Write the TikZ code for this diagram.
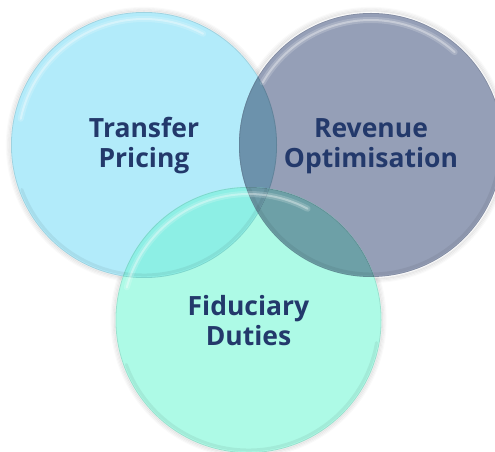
\documentclass[tikz,border=0pt]{standalone}
\usepackage{fontspec}
\setmainfont{Open Sans}
\usetikzlibrary{calc}
\definecolor{cLeft}{HTML}{B2EBFA}
\definecolor{cRight}{HTML}{959FB7}
\definecolor{cBottom}{HTML}{ADFAE6}
\definecolor{cLR}{HTML}{6C92AC}
\definecolor{cLB}{HTML}{8DEFE5}
\definecolor{cRB}{HTML}{6DA0A7}
\definecolor{cLRB}{HTML}{6A98A5}
\definecolor{txt}{HTML}{23396B}
\tikzset{
  label/.style={text=txt, font=\bfseries\fontsize{26.5}{30}\selectfont, align=center, inner sep=0pt},
  glow/.style={black, line width=1.6pt},
  shinewide/.style={white, line width=6pt, opacity=0.18, line cap=round},
  shine/.style={white, line width=2pt, opacity=0.35, line cap=round},
  rimdark/.style={black, line width=3pt, opacity=0.06, line cap=round}
}
\begin{document}
\begin{tikzpicture}[x=1pt,y=1pt]
\useasboundingbox (0,0) rectangle (495,452);
\coordinate (cL) at (144,307);
\coordinate (cR) at (371,307);
\coordinate (cB) at (248.5,132);
% soft shadows
\foreach \c in {cL,cR,cB}{
  \foreach \k/\o in {1/0.07,2/0.05,3/0.035,4/0.02}{
    \draw[glow, opacity=\o] (\c) circle[radius=132.5pt+\k*1.2pt];
  }
}
% base fills
\fill[cLeft] (cL) circle[radius=133pt];
\fill[cRight] (cR) circle[radius=132pt];
\fill[cBottom] (cB) circle[radius=133pt];
% overlaps
\begin{scope}
  \clip (cL) circle[radius=133pt];
  \fill[cLR] (cR) circle[radius=132pt];
  \fill[cLB] (cB) circle[radius=133pt];
  \clip (cR) circle[radius=132pt];
  \fill[cLRB] (cB) circle[radius=133pt];
\end{scope}
\begin{scope}
  \clip (cR) circle[radius=132pt];
  \begin{scope}[even odd rule]
    \clip (cR) circle[radius=140pt] (cL) circle[radius=133pt];
    \fill[cRB] (cB) circle[radius=133pt];
  \end{scope}
\end{scope}
% rims and highlights
\draw[rimdark] ($(cL)+(200:130)$) arc (200:340:130);
\draw[rimdark] ($(cR)+(200:129)$) arc (200:360:129);
\draw[rimdark] ($(cB)+(200:130)$) arc (200:350:130);
\draw[shinewide] ($(cL)+(168:126)$) arc (168:62:126);
\draw[shinewide] ($(cR)+(150:125)$) arc (150:48:125);
\draw[shinewide] ($(cB)+(165:126)$) arc (165:62:126);
\draw[shine] ($(cL)+(168:126)$) arc (168:62:126);
\draw[shine] ($(cR)+(150:125)$) arc (150:48:125);
\draw[shine] ($(cB)+(165:126)$) arc (165:62:126);
\draw[black, opacity=0.10, line width=0.8pt] (cL) circle[radius=132.6pt];
\draw[black, opacity=0.10, line width=0.8pt] (cR) circle[radius=131.6pt];
\draw[black, opacity=0.10, line width=0.8pt] (cB) circle[radius=132.6pt];
% labels
\node[label] (tp) at ($(cL)+(0,-1)$) {Transfer\\Pricing};
\node[label] (ro) at ($(cR)+(0,-1)$) {Revenue\\Optimisation};
\node[label] (fd) at ($(cB)+(0,-1)$) {Fiduciary\\Duties};
\end{tikzpicture}
\end{document}
